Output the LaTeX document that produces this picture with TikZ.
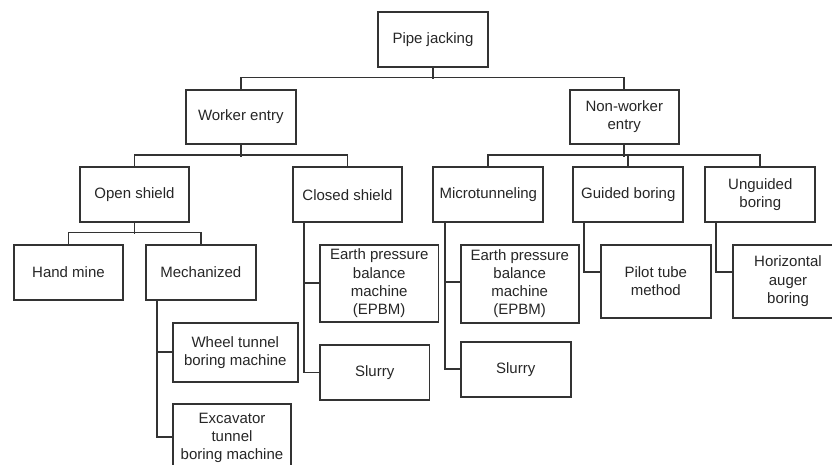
\documentclass[tikz,border=0pt]{standalone}
\usepackage{fontspec}
\setmainfont{Liberation Sans}
\begin{document}
\begin{tikzpicture}[x=1pt,y=-1pt,
  box/.style={draw=black!80, line width=1.7pt, text=black!85, align=center,
    inner sep=0pt, font=\fontsize{15}{18.2}\selectfont},
  link/.style={draw=black!80, line width=1.7pt}]
\useasboundingbox (0,0) rectangle (832,465);
% level 0
\node[box, minimum width=110pt, minimum height=54.7pt] (pj) at (433,39.7) {Pipe jacking};
% level 1
\node[box, minimum width=109.7pt, minimum height=54.6pt] (we) at (240.8,117) {Worker entry};
\node[box, minimum width=109.3pt, minimum height=54.6pt] (nwe) at (624.3,117) {Non-worker\\entry};
% level 2
\node[box, minimum width=109.6pt, minimum height=54.7pt] (os) at (134.5,194.7) {Open shield};
\node[box, minimum width=109.6pt, minimum height=54.7pt] (cs) at (347.5,194.7) {Closed shield};
\node[box, minimum width=110pt, minimum height=54.7pt] (mt) at (488.3,194.7) {Microtunneling};
\node[box, minimum width=110pt, minimum height=54.7pt] (gb) at (628.3,194.7) {Guided boring};
\node[box, minimum width=110pt, minimum height=54.7pt] (ub) at (760.3,194.7) {Unguided\\boring};
% level 3
\node[box, minimum width=109.6pt, minimum height=55pt] (hm) at (68.5,272.2) {Hand mine};
\node[box, minimum width=109.7pt, minimum height=55pt] (mech) at (200.8,272.2) {Mechanized};
\node[box, minimum width=124.7pt, minimum height=59.3pt] (wtbm) at (235.3,352.3) {Wheel tunnel\\boring machine};
\node[box, minimum width=118pt, minimum height=68pt] (etbm) at (232,438) {Excavator\\tunnel\\boring machine};
\node[box, minimum width=118.3pt, minimum height=77.3pt] (cepbm) at (379.2,283.3) {Earth pressure\\balance\\machine\\(EPBM)};
\node[box, minimum width=109.3pt, minimum height=55pt] (cslurry) at (374.7,372.5) {Slurry};
\node[box, minimum width=118pt, minimum height=78pt] (mepbm) at (519.7,283.7) {Earth pressure\\balance\\machine\\(EPBM)};
\node[box, minimum width=110pt, minimum height=55pt] (mslurry) at (515.7,369.2) {Slurry};
\node[box, minimum width=109.7pt, minimum height=72.7pt] (ptm) at (655.8,281.3) {Pilot tube\\method};
\node[box, minimum width=110pt, minimum height=72.7pt] (hab) at (788,281.3) {Horizontal\\auger\\boring};
% connectors
\draw[link] (pj.south) -- ++(0,11.3);
\draw[link] (we.north) -- ++(0,-11.4) -| (nwe.north);
\draw[link] (we.south) -- ++(0,11.4);
\draw[link] (os.north) -- ++(0,-11.6) -| (cs.north);
\draw[link] (nwe.south) -- ++(0,11.4);
\draw[link] (mt.north) -- ++(0,-11.6) -| (ub.north);
\draw[link] (gb.north) -- ++(0,-11.6);
\draw[link] (os.south) -- ++(0,11.3);
\draw[link] (hm.north) -- ++(0,-11.4) -| (mech.north);
\draw[link] ([xshift=-43.8pt]mech.south) |- (wtbm.west);
\draw[link] ([xshift=-43.8pt]mech.south) |- ([yshift=1.3pt]etbm.west);
\draw[link] ([xshift=-43.8pt]cs.south) |- (cepbm.west);
\draw[link] ([xshift=-43.8pt]cs.south) |- (cslurry.west);
\draw[link] ([xshift=-43.6pt]mt.south) |- ([yshift=1.5pt]mepbm.west);
\draw[link] ([xshift=-43.6pt]mt.south) |- (mslurry.west);
\draw[link] ([xshift=-44pt]gb.south) |- ([yshift=9pt]ptm.west);
\draw[link] ([xshift=-44pt]ub.south) |- ([yshift=9pt]hab.west);
\end{tikzpicture}
\end{document}
